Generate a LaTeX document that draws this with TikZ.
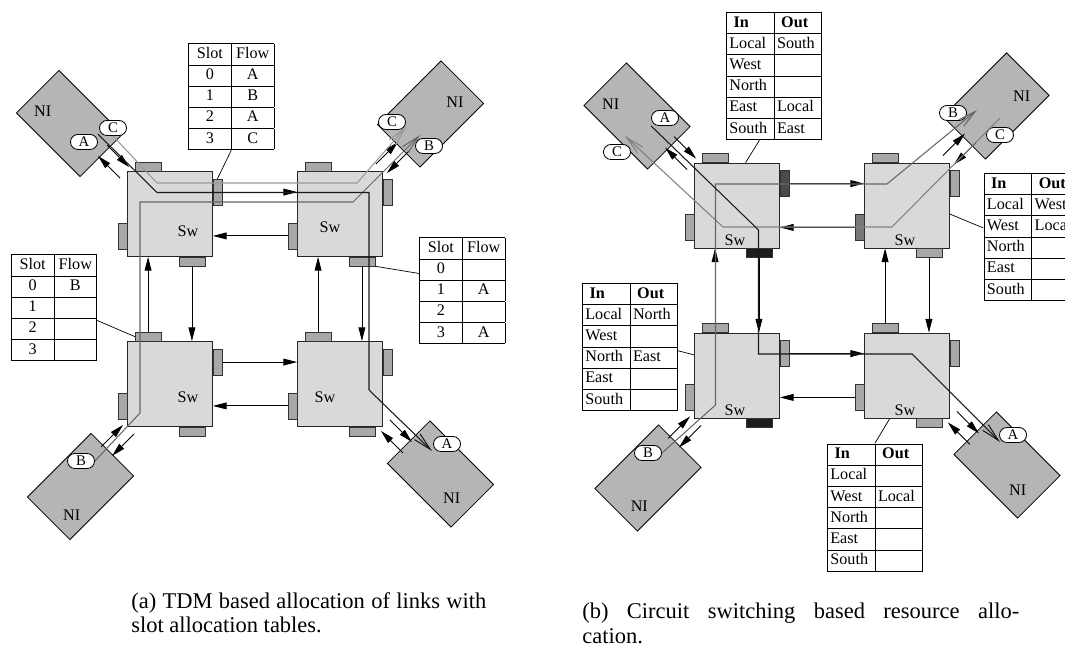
\documentclass[tikz,border=0pt]{standalone}
\usepackage{fontspec}
\setmainfont{Liberation Serif}
\usepackage{array}
\usetikzlibrary{arrows.meta,positioning,calc}

\definecolor{swgray}{HTML}{D9D9D9}
\definecolor{nigray}{HTML}{B5B5B5}
\definecolor{portlt}{HTML}{A8A8A8}
\definecolor{portmd}{HTML}{787878}
\definecolor{portdk}{HTML}{4A4A4A}
\definecolor{portbk}{HTML}{1C1C1C}

\setlength{\tabcolsep}{2pt}
\newcolumntype{C}[1]{>{\centering\arraybackslash}p{#1}}
\newcolumntype{L}[1]{>{\raggedright\arraybackslash}p{#1}}

\begin{document}
\begin{tikzpicture}[x=0.25mm,y=-0.25mm,
  sw/.style={draw=black!85,fill=swgray,line width=0.6pt,minimum size=21.25mm,inner sep=0pt},
  porth/.style={draw=black!80,line width=0.5pt,minimum width=6.5mm,minimum height=2.25mm,inner sep=0pt},
  portv/.style={porth,minimum width=2.25mm,minimum height=6.5mm},
  ni/.style={draw=black,fill=nigray,line width=0.6pt,minimum width=22.5mm,minimum height=15mm,inner sep=0pt},
  tagbox/.style={draw=black,fill=white,line width=0.6pt,rounded corners=1.85mm,minimum width=6.75mm,minimum height=3.75mm,inner sep=0pt,font=\fontsize{10.5}{12}\selectfont},
  lab/.style={inner sep=0pt,font=\fontsize{11.5}{14}\selectfont},
  tbl/.style={anchor=north west,inner sep=0pt,font=\fontsize{11.5}{14.7}\selectfont},
  lnk/.style={-{Triangle[length=3.4mm,width=1.7mm]},line width=0.6pt},
  lead/.style={line width=0.5pt},
  flA/.style={black!90,line width=0.75pt,-{Straight Barb[length=4.5mm,width=2mm]}},
  flB/.style={flA,black!60},
  flC/.style={flA,black!40},
  capt/.style={anchor=north west,inner sep=0pt,align=justify,font=\fontsize{16}{17.5}\selectfont}]
\useasboundingbox (0,0) rectangle (1065,654);
\clip (0,0) rectangle (1065,654);

% network interfaces
\node[ni,rotate=-45] (nitla) at (69.5,123.5) {};
\node[ni,rotate=45]  (nitra) at (430.5,114) {};
\node[ni,rotate=-45] (nibra) at (440.5,474) {};
\node[ni,rotate=45]  (nibla) at (80.5,486.5) {};
\node[ni,rotate=-45] (nitlb) at (637,116) {};
\node[ni,rotate=45]  (nitrb) at (996,106) {};
\node[ni,rotate=-45] (nibrb) at (1007,465) {};
\node[ni,rotate=45]  (niblb) at (648,478) {};

% switches
\node[sw] (tla) at (170,214) {}; \node[sw] (tra) at (340,214) {};
\node[sw] (bla) at (170,384) {}; \node[sw] (bra) at (340,384) {};
\node[sw] (tlb) at (737,205.5) {}; \node[sw] (trb) at (907,205.5) {};
\node[sw] (blb) at (737,375.5) {}; \node[sw] (brb) at (907,375.5) {};

% ports: switch/north/east/south/west
\foreach \s/\cn/\ce/\cs/\cw in {tla/portlt/portlt/portlt/portlt,tra/portlt/portlt/portlt/portlt,
    bla/portlt/portlt/portlt/portlt,bra/portlt/portlt/portlt/portlt,
    tlb/portlt/portdk/portbk/portlt,trb/portlt/portlt/portlt/portmd,
    blb/portlt/portlt/portbk/portlt,brb/portlt/portlt/portlt/portlt} {
  \node[porth,fill=\cn] (\s-n) at ($(\s.north west)+(21,-4.5)$) {};
  \node[portv,fill=\ce] (\s-e) at ($(\s.north east)+(4.5,21)$) {};
  \node[porth,fill=\cs] (\s-s) at ($(\s.south east)+(-21,4.5)$) {};
  \node[portv,fill=\cw] (\s-w) at ($(\s.south west)+(-4.5,-21)$) {};
}

\node[lab] (swtla) at (188,231) {Sw}; \node[lab] (swtra) at (330,227) {Sw};
\node[lab] (swbla) at (188,397) {Sw}; \node[lab] (swbra) at (325,397) {Sw};
\node[lab] (swtlb) at (735,240) {Sw}; \node[lab] (swtrb) at (905,240) {Sw};
\node[lab] (swblb) at (735,410) {Sw}; \node[lab] (swbrb) at (905,410) {Sw};

\node[lab] (ltla) at (42.7,111.7) {NI}; \node[lab] (ltra) at (455,102.7) {NI};
\node[lab] (lbla) at (71.7,515) {NI};   \node[lab] (lbra) at (451.7,498.3) {NI};
\node[lab] (ltlb) at (610.7,104.3) {NI}; \node[lab] (ltrb) at (1021.7,96.7) {NI};
\node[lab] (lblb) at (639.3,506.7) {NI}; \node[lab] (lbrb) at (1017.7,490) {NI};

% links between switches
\foreach \h in {a,b} {
  \draw[lnk] (tl\h-e.east) -- (tl\h-e.east -| tr\h.west);
  \draw[lnk] (tr\h-w.west) -- (tr\h-w.west -| tl\h.east);
  \draw[lnk] (bl\h-e.east) -- (bl\h-e.east -| br\h.west);
  \draw[lnk] (br\h-w.west) -- (br\h-w.west -| bl\h.east);
  \draw[lnk] (tl\h-s.south) -- (tl\h-s.south |- bl\h.north);
  \draw[lnk] (bl\h-n.north) -- (bl\h-n.north |- tl\h.south);
  \draw[lnk] (tr\h-s.south) -- (tr\h-s.south |- br\h.north);
  \draw[lnk] (br\h-n.north) -- (br\h-n.north |- tr\h.south);
}
% links between switch corner and NI
\foreach \h in {a,b}
  \foreach \c/\k/\r in {tl/north west/0,tr/north east/-90,br/south east/-180,bl/south west/-270} {
    \begin{scope}[shift={(\c\h.\k)},rotate=\r]
      \draw[lnk] (-20,-26) -- (2,-4);
      \draw[lnk] (-7,7) -- (-29,-15);
    \end{scope}
  }

% slot tables
\node[tbl] (t1) at (188,43) {\begin{tabular}{|C{26pt}|C{26pt}|}\hline
  Slot & Flow\\\hline 0 & A\\\hline 1 & B\\\hline 2 & A\\\hline 3 & C\\\hline\end{tabular}};
\node[tbl] (t2) at (10.7,254) {\begin{tabular}{|C{26pt}|C{26pt}|}\hline
  Slot & Flow\\\hline 0 & B\\\hline 1 & \\\hline 2 & \\\hline 3 & \\\hline\end{tabular}};
\node[tbl] (t3) at (419,237) {\begin{tabular}{|C{26pt}|C{26pt}|}\hline
  Slot & Flow\\\hline 0 & \\\hline 1 & A\\\hline 2 & \\\hline 3 & A\\\hline\end{tabular}};
\draw[lead] (t1.south) -- (tla-e.north);
\draw[lead] ($(t2.north east)!0.62!(t2.south east)$) -- (bla-n.west);
\draw[lead] ($(t3.north west)!0.34!(t3.south west)$) -- (tra-s.south east);

% in/out tables
\node[tbl] (t4) at (725.7,11.7) {\begin{tabular}{|L{29.5pt}|L{29.5pt}|}\hline
  \hspace*{3pt}\textbf{In} & \hspace*{3pt}\textbf{Out}\\\hline Local & South\\\hline West & \\\hline
  North & \\\hline East & Local\\\hline South & East\\\hline\end{tabular}};
\node[tbl] (t5) at (983.3,172.7) {\begin{tabular}{|L{29.5pt}|L{29.5pt}|}\hline
  \hspace*{3pt}\textbf{In} & \hspace*{3pt}\textbf{Out}\\\hline Local & West\\\hline West & Local\\\hline
  North & \\\hline East & \\\hline South & \\\hline\end{tabular}};
\node[tbl] (t6) at (581.7,282.7) {\begin{tabular}{|L{29.5pt}|L{29.5pt}|}\hline
  \hspace*{3pt}\textbf{In} & \hspace*{3pt}\textbf{Out}\\\hline Local & North\\\hline West & \\\hline
  North & East\\\hline East & \\\hline South & \\\hline\end{tabular}};
\node[tbl] (t7) at (826.7,443.3) {\begin{tabular}{|L{29.5pt}|L{29.5pt}|}\hline
  \hspace*{3pt}\textbf{In} & \hspace*{3pt}\textbf{Out}\\\hline Local & \\\hline West & Local\\\hline
  North & \\\hline East & \\\hline South & \\\hline\end{tabular}};
\draw[lead] ($(t4.south west)!0.35!(t4.south east)$) -- ($(tlb.north west)!0.6!(tlb.north east)$);
\draw[lead] ($(t5.north west)!0.43!(t5.south west)$) -- ($(trb.north east)!0.6!(trb.south east)$);
\draw[lead] ($(t6.north east)!0.53!(t6.south east)$) -- ($(blb.north west)!0.26!(blb.south west)$);
\draw[lead] (t7.north) -- ($(brb.south west)!0.3!(brb.south east)$);

% flow tags
\node[tagbox] (aA1) at (84,142) {A};   \node[tagbox] (aC1) at (113,128) {C};
\node[tagbox] (aC2) at (392,122) {C};  \node[tagbox] (aB2) at (429,146) {B};
\node[tagbox] (aB4) at (81,461) {B};   \node[tagbox] (aA3) at (447,444) {A};
\node[tagbox] (bA1) at (665,118) {A};  \node[tagbox] (bC2) at (617,152) {C};
\node[tagbox] (bB1) at (953,113) {B};  \node[tagbox] (bC1) at (1000,135) {C};
\node[tagbox] (bB3) at (648,453) {B};  \node[tagbox] (bA2) at (1013,435) {A};

% flows, TDM side
\coordinate (fa1) at (157,192.5); \coordinate (fa2) at (369,192.5);
\coordinate (fa3) at (369,390);   \coordinate (fa4) at (432,451);
\coordinate (fb1) at (140,413);   \coordinate (fb2) at (140,202);
\coordinate (fb3) at (353,202);   \coordinate (fb4) at (420,135);
\coordinate (fc1) at (157,183);   \coordinate (fc2) at (357,183);
\coordinate (fc3) at (406,127);
\draw[flC] (aC1.south) -- (fc1) -- (fc2) -- (fc3);
\draw[flB] (aB4.east) -- (fb1) -- (fb2) -- (fb3) -- (fb4);
\draw[flA] (aA1.north east) -- (fa1) -- (fa2) -- (fa3) -- (fa4);

% flows, circuit side
\coordinate (ga1) at (758.5,230); \coordinate (ga2) at (758.5,354);
\coordinate (ga3) at (912,354);   \coordinate (ga4) at (1000,442);
\coordinate (gb1) at (715.5,405); \coordinate (gb2) at (715.5,184);
\coordinate (gb3) at (887,184);   \coordinate (gb4) at (977,110);
\coordinate (gc0) at (1000,118);  \coordinate (gc1) at (892,227);
\coordinate (gc2) at (723,227);   \coordinate (gc3) at (625,136);
\draw[flA,black!50] (gc0) -- (gc1) -- (gc2) -- (gc3);
\draw[flB] (bB3.east) -- (gb1) -- (gb2) -- (gb3) -- (gb4);
\draw[flA] (bA1.south west) -- (ga1) -- (ga2) -- (ga3) -- (ga4);

% captions
\node[capt,text width=88.75mm] (capa) at (131,592)
  {(a) TDM based allocation of links with\linebreak slot allocation tables.};
\node[capt,text width=109.25mm] (capb) at (582,603)
  {(b) Circuit switching based resource allo-\linebreak cation.};
\end{tikzpicture}
\end{document}
